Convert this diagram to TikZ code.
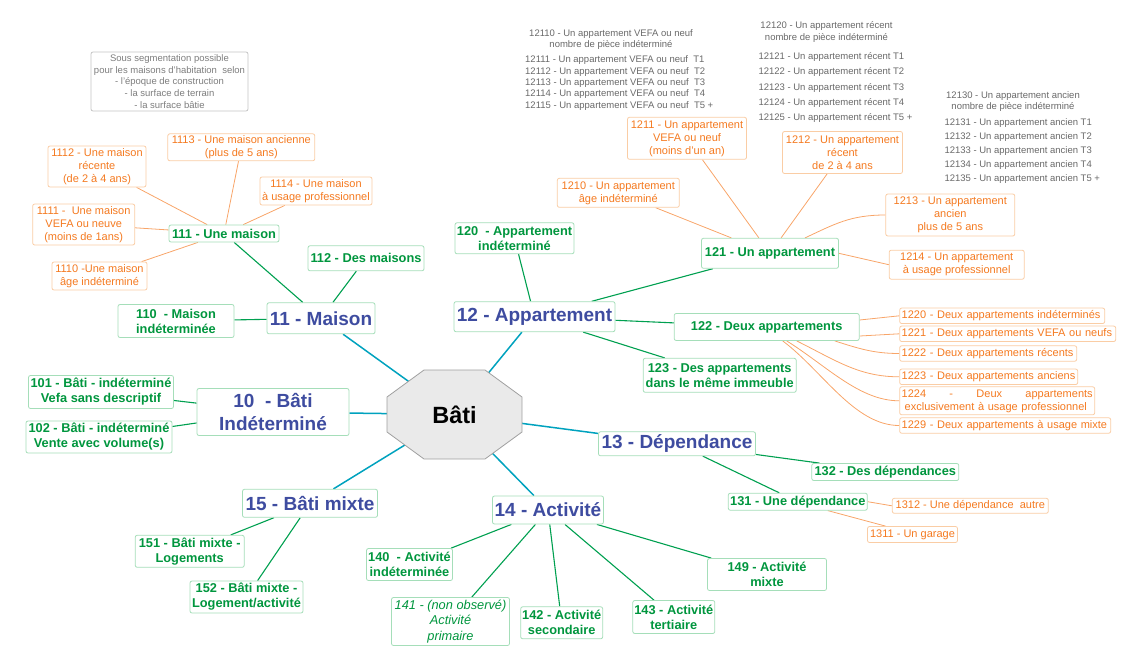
\documentclass[tikz,border=0pt]{standalone}
\usepackage{fontspec}
\setmainfont{Liberation Sans}
\usetikzlibrary{calc,backgrounds}
\definecolor{bluet}{RGB}{62,76,160}
\definecolor{greent}{RGB}{0,150,62}
\definecolor{greenl}{RGB}{0,160,80}
\definecolor{greenb}{RGB}{165,222,185}
\definecolor{tealine}{RGB}{0,162,190}
\definecolor{oranget}{RGB}{245,122,32}
\definecolor{orangeb}{RGB}{250,205,165}
\definecolor{orangel}{RGB}{248,165,105}
\definecolor{grayt}{RGB}{105,105,105}
\definecolor{grayn}{RGB}{125,125,125}
\definecolor{grayb}{RGB}{195,195,195}
\definecolor{octfill}{RGB}{234,234,234}
\definecolor{octdraw}{RGB}{160,160,160}
\tikzset{
  sz/.style 2 args={minimum width=#1pt, minimum height=#2pt},
  lvlone/.style={draw=greenb, line width=0.8pt, fill=white, rounded corners=2pt, text=bluet,
    font=\fontsize{19}{22.6}\selectfont\bfseries, align=center, inner sep=1pt},
  lvltwo/.style={draw=greenb, line width=0.8pt, fill=white, rounded corners=2pt, text=greent,
    font=\fontsize{12.8}{15}\selectfont\bfseries, align=center, inner sep=1pt},
  lvlthree/.style={draw=orangeb, line width=0.8pt, fill=white, rounded corners=2pt, text=oranget,
    font=\fontsize{11}{13}\selectfont, align=center, inner sep=1pt},
  fanbox/.style={lvlthree, anchor=west, align=left, inner sep=2pt, minimum height=15.5pt},
  graytxt/.style={text=grayt, font=\fontsize{9.5}{11.4}\selectfont, inner sep=0pt},
  notebox/.style={draw=grayb, line width=0.8pt, rounded corners=2pt, text=grayn,
    font=\fontsize{9.5}{11.6}\selectfont, align=center, inner sep=1pt},
  tealedge/.style={draw=tealine, line width=1.5pt},
  greenedge/.style={draw=greenl, line width=1.1pt},
  orangeedge/.style={draw=orangel, line width=0.8pt},
  octa/.style={fill=octfill, draw=octdraw, line width=0.8pt},
  batitext/.style={font=\fontsize{23.5}{26}\selectfont\bfseries, text=black, inner sep=0pt},
}
\begin{document}
\begin{tikzpicture}[x=1pt,y=-1pt]
\useasboundingbox (0,0) rectangle (1124,667);

% note
\node[notebox, sz={157}{59}] (note) at (169.5,81.5) {Sous segmentation possible\\pour les maisons d'habitation\ \ selon\\- l'époque de construction\\- la surface de terrain\\- la surface bâtie};

% gray text blocks
\node[graytxt, align=center, font=\fontsize{9.5}{10.5}\selectfont] (g1a) at (611,39.5) {12110 - Un appartement VEFA ou neuf\\nombre de pièce indéterminé};
\node[graytxt, align=left, anchor=west] (g1b) at (525,83) {12111 - Un appartement VEFA ou neuf\ \ T1\\12112 - Un appartement VEFA ou neuf\ \ T2\\12113 - Un appartement VEFA ou neuf\ \ T3\\12114 - Un appartement VEFA ou neuf\ \ T4\\12115 - Un appartement VEFA ou neuf\ \ T5 +};
\node[graytxt, align=center, font=\fontsize{9.5}{11.6}\selectfont] (g2a) at (826.5,32) {12120 - Un appartement récent\\nombre de pièce indéterminé};
\node[graytxt, align=left, anchor=west, font=\fontsize{9.5}{15.2}\selectfont] (g2b) at (758.3,87.5) {12121 - Un appartement récent T1\\12122 - Un appartement récent T2\\12123 - Un appartement récent T3\\12124 - Un appartement récent T4\\12125 - Un appartement récent T5 +};
\node[graytxt, align=center, font=\fontsize{9.5}{11}\selectfont] (g3a) at (1013,101.5) {12130 - Un appartement ancien\\nombre de pièce indéterminé};
\node[graytxt, align=left, anchor=west, font=\fontsize{9.5}{13.9}\selectfont] (g3b) at (944.3,151) {12131 - Un appartement ancien T1\\12132 - Un appartement ancien T2\\12133 - Un appartement ancien T3\\12134 - Un appartement ancien T4\\12135 - Un appartement ancien T5 +};

% level 1
\node[lvlone, sz={108}{31}] (n11) at (321,318.3) {11 - Maison};
\node[lvlone, sz={161}{30}] (n12) at (534.5,316.7) {12 - Appartement};
\node[lvlone, sz={152}{47}] (n10) at (273,412) {10\ \ - Bâti\\Indéterminé};
\node[lvlone, sz={157}{24}] (n13) at (677,443.8) {13 - Dépendance};
\node[lvlone, sz={111}{28}] (n14) at (548,510) {14 - Activité};
\node[lvlone, sz={135}{28}] (n15) at (310,503.3) {15 - Bâti mixte};

% level 2
\node[lvltwo, sz={110}{17}] (n111) at (224,233.5) {111 - Une maison};
\node[lvltwo, sz={116}{25}] (n112) at (366,258.3) {112 - Des maisons};
\node[lvltwo, sz={116}{33}] (n110) at (176,321) {110\ \ - Maison\\indéterminée};
\node[lvltwo, sz={145}{33}] (n101) at (101,392) {101 - Bâti - indéterminé\\Vefa sans descriptif};
\node[lvltwo, sz={146}{32}] (n102) at (99,437) {102 - Bâti - indéterminé\\Vente avec volume(s)};
\node[lvltwo, sz={119}{31}] (n120) at (514.5,238.3) {120\ \ - Appartement\\indéterminé};
\node[lvltwo, sz={137}{30}] (n121) at (770,253.3) {121 - Un appartement};
\node[lvltwo, sz={185}{27}] (n122) at (766.7,327) {122 - Deux appartements};
\node[lvltwo, sz={153}{34}] (n123) at (719.7,375.3) {123 - Des appartements\\dans le même immeuble};
\node[lvltwo, sz={147}{17}] (n132) at (885.3,472) {132 - Des dépendances};
\node[lvltwo, sz={139}{17}] (n131) at (797.8,501.7) {131 - Une dépendance};
\node[lvltwo, sz={86}{32}] (n140) at (409.5,564.5) {140\ \ - Activité\\indéterminée};
\node[lvltwo, sz={118}{48}, font=\fontsize{12.8}{15.3}\selectfont\itshape] (n141) at (450.5,621.5) {141 - (non observé)\\Activité\\primaire};
\node[lvltwo, sz={82}{32}] (n142) at (561.7,622.8) {142 - Activité\\secondaire};
\node[lvltwo, sz={82}{33}] (n143) at (673.8,617) {143 - Activité\\tertiaire};
\node[lvltwo, sz={119}{32}] (n149) at (767,574.5) {149 - Activité\\mixte};
\node[lvltwo, sz={109}{32}] (n151) at (189.7,551.3) {151 - Bâti mixte -\\Logements};
\node[lvltwo, sz={113}{32}] (n152) at (246.5,597) {152 - Bâti mixte -\\Logement/activité};

% level 3
\node[lvlthree, sz={98}{41}] (n1112) at (97,166.5) {1112 - Une maison\\récente\\(de 2 à 4 ans)};
\node[lvlthree, sz={147}{27}] (n1113) at (241.3,147.3) {1113 - Une maison ancienne\\(plus de 5 ans)};
\node[lvlthree, sz={112}{28}] (n1114) at (316,191) {1114 - Une maison\\à usage professionnel};
\node[lvlthree, sz={102}{41}] (n1111) at (83.7,224.5) {1111 -\ \ Une maison\\VEFA ou neuve\\(moins de 1ans)};
\node[lvlthree, sz={95}{28}] (n1110) at (99.5,276) {1110 -Une maison\\âge indéterminé};
\node[lvlthree, sz={122}{29}] (n1210) at (618.3,192.8) {1210 - Un appartement\\âge indéterminé};
\node[lvlthree, sz={119}{42}] (n1211) at (687,138.3) {1211 - Un appartement\\VEFA ou neuf\\(moins d'un an)};
\node[lvlthree, sz={120}{42}] (n1212) at (842.5,152.5) {1212 - Un appartement\\récent\\de 2 à 4 ans};
\node[lvlthree, sz={129}{42}] (n1213) at (950.3,215) {1213 - Un appartement\\ancien\\plus de 5 ans};
\node[lvlthree, sz={135}{29}] (n1214) at (956.7,264.7) {1214 - Un appartement\\à usage professionnel};
\node[fanbox, text width=201pt] (n1220) at (899.3,315.8) {1220 - Deux appartements indéterminés};
\node[fanbox, text width=212pt] (n1221) at (899.3,333.8) {1221 - Deux appartements VEFA ou neufs};
\node[fanbox, text width=173pt] (n1222) at (899.3,353.5) {1222 - Deux appartements récents};
\node[fanbox, text width=174pt] (n1223) at (899.3,376.8) {1223 - Deux appartements anciens};
\node[fanbox, text width=191pt, minimum height=28pt] (n1224) at (899.3,400.8) {\hbox to 191pt{1224\hfill-\hfill Deux\hfill appartements}\\\hspace*{3pt}exclusivement à usage professionnel};
\node[fanbox, text width=207pt] (n1229) at (899.3,425.5) {1229 - Deux appartements à usage mixte};
\node[lvlthree, sz={156}{15}] (n1312) at (970.3,505.8) {1312 - Une dépendance\ \ autre};
\node[lvlthree, sz={90}{16}] (n1311) at (912.5,534.5) {1311 - Un garage};

% central octagon
\coordinate (bc) at (454.5,414.5);
\draw[octa] ($(bc)+(-30.5,-44.5)$) -- ($(bc)+(30.5,-44.5)$) -- ($(bc)+(67.5,-17.5)$) -- ($(bc)+(67.5,17.5)$)
  -- ($(bc)+(30.5,44.5)$) -- ($(bc)+(-30.5,44.5)$) -- ($(bc)+(-67.5,17.5)$) -- ($(bc)+(-67.5,-17.5)$) -- cycle;
\node[batitext] (bati) at (bc) {Bâti};

% anchor points for curved connectors
\coordinate (s1213) at ([xshift=35pt]n121.north);
\coordinate (s1220) at ([yshift=7pt]n122.east);
\coordinate (s1221) at ([yshift=-9pt]n122.east);
\coordinate (s1222) at ([xshift=68pt]n122.south);
\coordinate (s1223) at ([xshift=30pt]n122.south);
\coordinate (s1224) at ([xshift=20pt]n122.south);
\coordinate (s1229) at ([xshift=16pt]n122.south);
\coordinate (s1311) at ([xshift=30pt]n131.south);
\coordinate (e1311) at ([xshift=-27pt]n1311.north);

\begin{pgfonlayer}{background}
  \foreach \t in {n10,n11,n12,n13,n14,n15} \draw[tealedge] (bati.center) -- (\t);
  \draw[greenedge] (n11) -- (n111);
  \draw[greenedge] (n11) -- (n112);
  \draw[greenedge] (n11) -- (n110);
  \draw[greenedge] (n12) -- (n120);
  \draw[greenedge] (n12) -- (n121);
  \draw[greenedge] (n12) -- (n122);
  \draw[greenedge] (n12) -- (n123);
  \draw[greenedge] (n10) -- (n101);
  \draw[greenedge] (n10) -- (n102);
  \draw[greenedge] (n13) -- (n132);
  \draw[greenedge] (n13) -- (n131);
  \draw[greenedge] (n14) -- (n140);
  \draw[greenedge] (n14) -- (n141);
  \draw[greenedge] (n14) -- (n142);
  \draw[greenedge] (n14) -- (n143);
  \draw[greenedge] (n14) -- (n149);
  \draw[greenedge] (n15) -- (n151);
  \draw[greenedge] (n15) -- (n152);
  \draw[orangeedge] (n111) -- (n1112);
  \draw[orangeedge] (n111) -- (n1113);
  \draw[orangeedge] (n111) -- (n1114);
  \draw[orangeedge] (n111) -- (n1111);
  \draw[orangeedge] (n111) -- (n1110);
  \draw[orangeedge] (n121) -- (n1210);
  \draw[orangeedge] (n121) -- (n1211);
  \draw[orangeedge] (n121) -- (n1212);
  \draw[orangeedge] (s1213) .. controls ($(s1213)+(30,-14)$) and ($(n1213.west)+(-35,0)$) .. (n1213.west);
  \draw[orangeedge] (n121.east) -- (n1214.west);
  \draw[orangeedge] (s1220) -- (n1220.west);
  \draw[orangeedge] (s1221) -- (n1221.west);
  \draw[orangeedge] (s1222) .. controls ($(s1222)+(25,8)$) and ($(n1222.west)+(-25,0)$) .. (n1222.west);
  \draw[orangeedge] (s1223) .. controls ($(s1223)+(40,20)$) and ($(n1223.west)+(-40,0)$) .. (n1223.west);
  \draw[orangeedge] (s1224) .. controls ($(s1224)+(40,25)$) and ($(n1224.west)+(-40,0)$) .. (n1224.west);
  \draw[orangeedge] (s1229) .. controls ($(s1229)+(40,30)$) and ($(n1229.west)+(-45,0)$) .. (n1229.west);
  \draw[orangeedge] (n131.east) -- (n1312.west);
  \draw[orangeedge] (s1311) -- (e1311);
\end{pgfonlayer}
\end{tikzpicture}
\end{document}
